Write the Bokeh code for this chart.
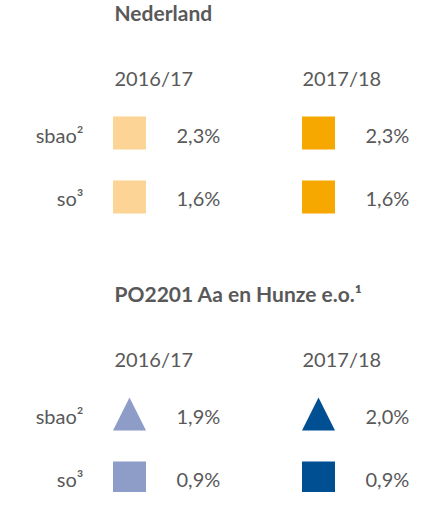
from bokeh.plotting import figure
from bokeh.models import Range1d
from bokeh.embed import file_html
from bokeh.resources import INLINE
from bokeh.core.properties import value

# ---- data ----
groups = ["Nederland", "PO2201 Aa en Hunze e.o.\u00b9"]
years = ["2016/17", "2017/18"]
row_labels = ["sbao\u00b2", "so\u00b3"]
nl_2016 = [2.3, 1.6]
nl_2017 = [2.3, 1.6]
po_2016 = [1.9, 0.9]
po_2017 = [2.0, 0.9]

# ---- styling / layout ----
FONT = "Lato"
TXT = "#595959"
colors = {
    ("nl", 0): "#FCD495", ("nl", 1): "#F6A800",
    ("po", 0): "#8E9CC8", ("po", 1): "#004F93",
}
col_x = [129, 318]        # marker centres
col_val_x = [176, 365]    # value text left
col_head_x = [114, 302]
label_right = 83
sec_off = [0, 281]
TDY = -9                  # text baseline correction
title_base = 30 + TDY
head_base = 95 + TDY
row_center = [141.5, 205.5]
row_base = [152 + TDY, 215 + TDY]
MS = 33

def fmt(v):
    return f"{v:.1f}".replace(".", ",") + "%"

p = figure(width=430, height=492, output_backend="svg", toolbar_location=None,
           x_range=Range1d(0, 430), y_range=Range1d(501, 9), min_border=0)
p.axis.visible = False
p.grid.visible = False
p.outline_line_color = None
p.background_fill_color = "white"
p.border_fill_color = "white"

series = [("nl", [nl_2016, nl_2017]), ("po", [po_2016, po_2017])]
for gi, (key, vals) in enumerate(series):
    off = sec_off[gi]
    p.text(x=[col_head_x[0]], y=[title_base + off], text=[groups[gi]],
           text_font=value(FONT), text_font_style="bold", text_font_size="21px",
           text_color=TXT, text_baseline="alphabetic", text_align="left")
    p.text(x=col_head_x, y=[head_base + off] * 2, text=years,
           text_font=value(FONT), text_font_size="20px", text_color=TXT,
           text_baseline="alphabetic", text_align="left")
    p.text(x=[label_right] * 2, y=[b + off for b in row_base], text=row_labels,
           text_font=value(FONT), text_font_size="20px", text_color=TXT,
           text_baseline="alphabetic", text_align="right")
    for ci in range(2):
        col_vals = vals[ci]
        color = colors[(key, ci)]
        p.text(x=[col_val_x[ci]] * 2, y=[b + off for b in row_base],
               text=[fmt(v) for v in col_vals],
               text_font=value(FONT), text_font_size="20px", text_color=TXT,
               text_baseline="alphabetic", text_align="left")
        for ri in range(2):
            cx = col_x[ci]
            cy = row_center[ri] + off
            if key == "po" and ri == 0:
                h = MS / 2
                p.patch([cx - h, cx + h, cx], [cy + h, cy + h, cy - h],
                        fill_color=color, line_color=None)
            else:
                p.rect(x=[cx], y=[cy], width=MS, height=MS,
                       fill_color=color, line_color=None)

open("out.html", "w").write(file_html(p, INLINE))
